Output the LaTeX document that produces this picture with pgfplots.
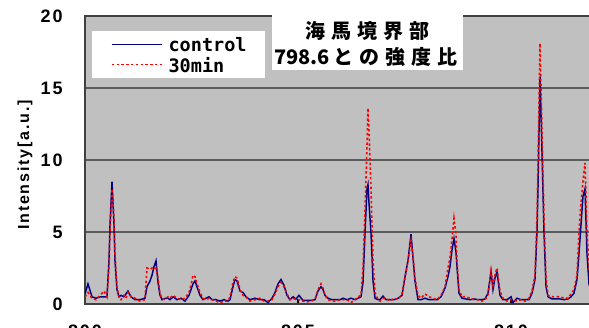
\documentclass[border=0pt]{standalone}
\usepackage{pgfplots}
\pgfplotsset{compat=1.18}
\usepackage{pgfplotstable}
\usepackage{fontspec}
\setmainfont{Liberation Sans}
\newfontfamily\tickfont{Liberation Sans}[LetterSpace=11]
\newfontfamily\labfont{Liberation Sans}[LetterSpace=11.6]
\newfontfamily\legfont{DejaVu Sans Mono}
\newfontfamily\cjk{Noto Sans CJK JP}
\definecolor{navyc}{RGB}{0,0,128}
\definecolor{bgc}{RGB}{192,192,192}
\definecolor{gridc}{RGB}{90,90,90}

\pgfplotstableread{
x c r
800.000 0.7 0.5
800.070 1.4 0.8
800.164 0.5 0.4
800.258 0.4 0.3
800.352 0.5 0.6
800.446 0.5 0.9
800.516 0.5 0.5
800.563 3.0 2.5
800.587 5.5 5.0
800.634 8.5 8.0
800.681 5.5 6.0
800.704 3.0 3.5
800.751 1.0 1.2
800.798 0.5 0.4
800.845 0.6 0.3
800.915 0.5 0.6
800.962 0.7 0.4
801.009 0.9 0.8
801.080 0.5 0.5
801.174 0.3 0.4
801.291 0.3 0.2
801.408 0.4 0.3
801.455 1.2 2.5
801.526 1.6 2.4
801.573 2.0 2.5
801.620 2.6 2.4
801.667 3.0 2.5
801.714 1.5 1.8
801.761 0.6 0.7
801.808 0.3 0.4
801.878 0.4 0.3
801.948 0.4 0.5
801.995 0.3 0.4
802.066 0.5 0.6
802.160 0.3 0.4
802.254 0.4 0.3
802.347 0.2 0.4
802.441 0.6 0.8
802.488 1.0 1.3
802.535 1.4 2.0
802.582 1.6 1.9
802.629 1.2 1.4
802.700 0.6 0.8
802.770 0.3 0.4
802.840 0.4 0.3
802.911 0.5 0.4
802.981 0.3 0.3
803.075 0.3 0.2
803.169 0.2 0.1
803.263 0.3 0.2
803.357 0.2 0.2
803.404 0.3 0.5
803.474 1.2 1.5
803.521 1.7 1.9
803.568 1.6 1.8
803.638 0.9 1.0
803.709 0.8 0.6
803.779 0.5 0.5
803.873 0.3 0.2
803.991 0.4 0.3
804.108 0.3 0.4
804.202 0.3 0.2
804.296 0.1 0.2
804.390 0.4 0.3
804.460 0.8 0.7
804.531 1.4 1.2
804.601 1.7 1.5
804.671 1.3 1.2
804.742 0.6 0.7
804.812 0.3 0.3
804.883 0.5 0.4
804.953 0.35 0.3
805.023 0.6 0.3
805.117 0.25 0.2
805.211 0.25 0.15
805.305 0.25 0.2
805.399 0.3 0.3
805.469 0.9 1.0
805.540 1.2 1.4
805.587 1.0 1.1
805.634 0.6 0.6
805.704 0.4 0.3
805.798 0.3 0.2
805.892 0.3 0.2
805.986 0.3 0.3
806.056 0.4 0.3
806.150 0.3 0.3
806.244 0.4 0.1
806.338 0.3 0.3
806.408 0.4 0.5
806.479 0.5 0.6
806.526 1.5 2.5
806.573 4.9 6.5
806.620 8.0 11.0
806.643 8.3 13.6
806.667 7.0 12.0
806.714 4.9 8.0
806.761 1.6 3.0
806.808 0.4 0.8
806.878 0.3 0.3
806.925 0.3 0.2
806.995 0.55 0.4
807.066 0.3 0.4
807.160 0.3 0.2
807.254 0.3 0.4
807.347 0.4 0.3
807.441 0.6 0.7
807.512 1.9 1.8
807.582 3.0 3.0
807.653 4.85 4.4
807.700 3.2 3.3
807.746 1.6 1.8
807.817 0.3 0.6
807.887 0.3 0.4
807.981 0.4 0.7
808.075 0.3 0.5
808.169 0.3 0.4
808.263 0.3 0.3
808.357 0.5 0.6
808.451 1.1 1.2
808.521 1.9 2.5
808.568 2.6 3.2
808.615 3.75 4.5
808.662 4.55 5.95
808.709 3.6 4.8
808.732 2.6 3.0
808.779 0.75 1.0
808.850 0.4 0.5
808.944 0.35 0.5
809.038 0.3 0.4
809.131 0.35 0.3
809.225 0.3 0.3
809.319 0.3 0.2
809.390 0.35 0.3
809.460 0.75 0.6
809.531 2.25 2.3
809.577 1.0 1.3
809.624 1.8 2.0
809.671 2.25 2.5
809.742 0.6 0.9
809.812 0.3 0.4
809.906 0.3 0.2
810.000 0.5 0.3
810.047 0.1 0.3
810.141 0.4 0.2
810.235 0.3 0.3
810.329 0.3 0.2
810.423 0.3 0.4
810.493 0.75 0.9
810.563 1.7 2.0
810.610 5.0 6.0
810.634 8.1 10.0
810.681 15.8 18.1
810.728 10.5 12.0
810.775 4.9 6.0
810.822 1.2 1.8
810.869 0.5 0.6
810.962 0.35 0.5
811.056 0.35 0.5
811.150 0.35 0.5
811.244 0.3 0.4
811.338 0.35 0.4
811.408 0.5 0.7
811.479 0.75 1.0
811.549 1.7 2.0
811.596 3.5 5.0
811.643 5.5 7.0
811.690 7.5 8.5
811.737 8.0 9.8
811.784 3.5 5.0
811.831 1.4 2.5
811.901 0.6 0.9
}\datatab

\begin{document}
\begin{tikzpicture}
\useasboundingbox (0pt,0pt) rectangle (441.75pt,246pt);
\clip (0pt,0pt) rectangle (441.75pt,246pt);
\begin{axis}[
  at={(63.75pt,18pt)}, anchor=south west,
  scale only axis, width=383.4pt, height=216pt,
  xmin=800, xmax=812, ymin=0, ymax=20,
  xtick={800,805,810}, ytick={0,5,10,15,20},
  xtick pos=bottom, ytick pos=left,
  axis background/.style={fill=bgc},
  ymajorgrids, grid style={draw=gridc, line width=1.2pt},
  axis line style={draw=black!75, line width=1.3pt},
  tick align=inside, major tick length=3.75pt,
  xtick style={draw=black, line width=1pt},
  ytick style={draw=none},
  /pgf/number format/assume math mode=true,
  ticklabel style={font=\tickfont\bfseries\fontsize{13.5pt}{15pt}\selectfont},
  yticklabel style={anchor=east, inner sep=0pt, xshift=-16.5pt},
  xticklabel style={anchor=north, inner sep=0pt, yshift=-15.75pt},
  ylabel={Intensity[a.u.]},
  ylabel style={font=\labfont\bfseries\fontsize{12pt}{14pt}\selectfont,
    at={(axis description cs:-0.1174,0.483)}, anchor=center},
  legend style={at={(axis description cs:0.0137,0.948)}, anchor=north west,
    draw=none, fill=white, inner xsep=14pt, inner ysep=2.15pt,
    font=\legfont\bfseries\fontsize{13.9pt}{15pt}\selectfont,
    cells={anchor=west},
    nodes={inner sep=0pt, text height=13.4pt, text depth=1.8pt},
    column sep=4.5pt, row sep=0pt},
  legend image code/.code={\draw[#1] (0pt,0pt) -- (37.5pt,0pt);},
]
\addplot[navyc, line width=1.1pt] table[x=x,y=c]{\datatab};
\addlegendentry{control}
\addplot[red, line width=1.2pt, dash pattern=on 1.8pt off 1.8pt] table[x=x,y=r]{\datatab};
\addlegendentry{30min}
\end{axis}
\fill[white] (204pt,193.5pt) rectangle (347.25pt,250pt);
\node[font=\cjk\bfseries\fontsize{15pt}{18pt}\selectfont, inner sep=0pt] at (275.6pt,222.75pt)
  {海\hspace{4.5pt}馬\hspace{4.5pt}境\hspace{4.5pt}界\hspace{4.5pt}部};
\node[font=\cjk\bfseries\fontsize{15pt}{18pt}\selectfont, inner sep=0pt] at (274.5pt,203.6pt)
  {798.6\hspace{3pt}と\hspace{4.5pt}の\hspace{4.5pt}強\hspace{4.5pt}度\hspace{4.5pt}比};
\end{tikzpicture}
\end{document}
